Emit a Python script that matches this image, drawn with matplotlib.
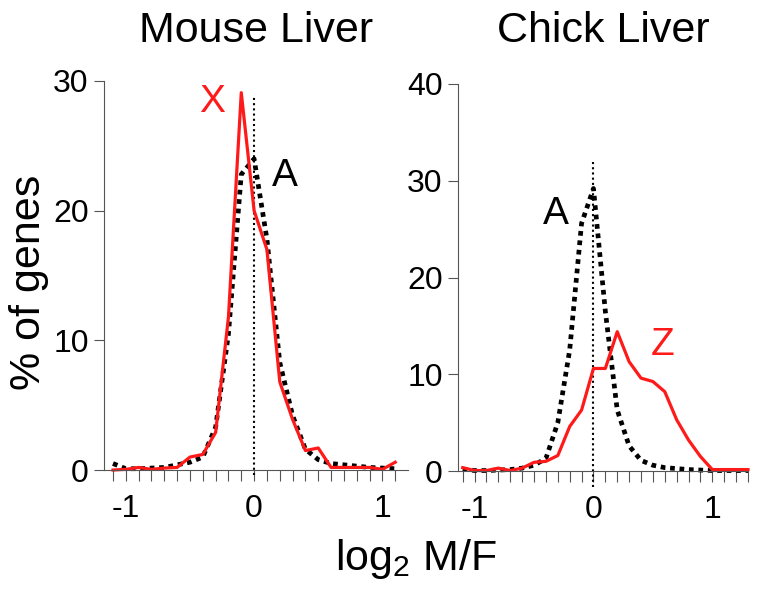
import numpy as np
import matplotlib
matplotlib.use('Agg')
from matplotlib import pyplot as plt

plt.rcParams['font.family'] = ['Liberation Sans', 'DejaVu Sans']
plt.rcParams['axes.unicode_minus'] = False
plt.rcParams['mathtext.default'] = 'regular'

# Data: mouse liver (X vs A)
x_mouse = [-1.1, -1.0, -0.9, -0.8, -0.7, -0.6, -0.5, -0.4, -0.3, -0.2, -0.1, 0.0,
           0.1, 0.2, 0.3, 0.4, 0.5, 0.6, 0.7, 0.8, 0.9, 1.0, 1.1]
mouse_X = [0.0, 0.05, 0.2, 0.05, 0.15, 0.2, 1.0, 1.2, 2.9, 11.8, 29.1, 20.0,
           17.0, 6.8, 3.9, 1.5, 1.7, 0.2, 0.2, 0.2, 0.2, 0.05, 0.6]
mouse_A = [0.5, 0.1, 0.1, 0.15, 0.2, 0.4, 0.6, 1.0, 3.3, 10.5, 22.8, 24.0,
           17.8, 8.3, 4.2, 1.6, 0.8, 0.5, 0.4, 0.3, 0.2, 0.15, 0.1]

# Data: chick liver (Z vs A)
x_chick = [-1.1, -1.0, -0.9, -0.8, -0.7, -0.6, -0.5, -0.4, -0.3, -0.2, -0.1, 0.0,
           0.1, 0.2, 0.3, 0.4, 0.5, 0.6, 0.7, 0.8, 0.9, 1.0, 1.1, 1.2, 1.3]
chick_Z = [0.35, 0.05, 0.05, 0.3, 0.05, 0.3, 0.9, 1.0, 1.6, 4.6, 6.3, 10.6,
           10.6, 14.4, 11.3, 9.6, 9.25, 8.2, 5.3, 3.2, 1.5, 0.15, 0.15, 0.15, 0.15]
chick_A = [0.2, 0.05, 0.05, 0.1, 0.15, 0.3, 0.6, 1.3, 5.0, 12.5, 25.6, 29.2,
           16.5, 6.3, 2.6, 1.1, 0.6, 0.35, 0.25, 0.15, 0.1, 0.05, 0.05, 0.05, 0.05]

tick_lab = {-1.0: '-1', 0.0: '0', 1.0: '1'}

fig = plt.figure(figsize=(7.62, 5.89), dpi=100)
ax1 = fig.add_axes([0.1365, 0.202, 0.399, 0.6605])
ax2 = fig.add_axes([0.601, 0.2003, 0.3806, 0.6571])

RED = '#ff1a1a'


def style(ax, xmin, xmax, ymax, ystep, xt):
    ax.set_xlim(xmin, xmax)
    ax.set_ylim(0, ymax)
    for s in ['top', 'right']:
        ax.spines[s].set_visible(False)
    for s in ['left', 'bottom']:
        ax.spines[s].set_color('#555555')
        ax.spines[s].set_linewidth(0.8)
    ax.set_yticks(np.arange(0, ymax + 1, ystep))
    ax.set_xticks(xt)
    ax.set_xticklabels([tick_lab.get(round(v, 1), '') for v in xt])
    ax.tick_params(axis='y', direction='out', length=7, width=0.8, color='#555555',
                   labelsize=23, pad=4)
    ax.tick_params(axis='x', direction='out', length=8, width=0.8, color='#555555',
                   labelsize=23, pad=9)


# Mouse
ax1.plot([0, 0], [-0.4, 28.9], color='black', lw=1.5, ls=(0, (1, 1.5)), clip_on=False)
ax1.plot(x_mouse, mouse_A, color='black', lw=3.4, ls=(0, (1, 1)), clip_on=False)
ax1.plot(x_mouse, mouse_X, color=RED, lw=2.3, clip_on=False)
style(ax1, -1.17, 1.2, 30, 10, x_mouse)
ax1.text(-0.33, 28.4, 'X', color=RED, fontsize=28, ha='center', va='center')
ax1.text(0.24, 22.7, 'A', color='black', fontsize=28, ha='center', va='center')
ax1.set_title('Mouse Liver', fontsize=31, pad=28)

# Chick
ax2.plot([0, 0], [-1.7, 32], color='black', lw=1.5, ls=(0, (1, 1.5)), clip_on=False)
ax2.plot(x_chick, chick_A, color='black', lw=3.4, ls=(0, (1, 1)), clip_on=False)
ax2.plot(x_chick, chick_Z, color=RED, lw=2.3, clip_on=False)
style(ax2, -1.14, 1.29, 40, 10, x_chick)
ax2.text(-0.32, 26.6, 'A', color='black', fontsize=28, ha='center', va='center')
ax2.text(0.58, 13.0, 'Z', color=RED, fontsize=28, ha='center', va='center')
ax2.set_title('Chick Liver', fontsize=31, pad=30)

fig.text(29 / 762, 1 - 282 / 589, '% of genes', rotation=90, fontsize=31,
         ha='center', va='center')
fig.text(335 / 762, 1 - 570 / 589, r'log$_2$ M/F', fontsize=31,
         ha='left', va='baseline')

fig.savefig('out.png', dpi=100)
